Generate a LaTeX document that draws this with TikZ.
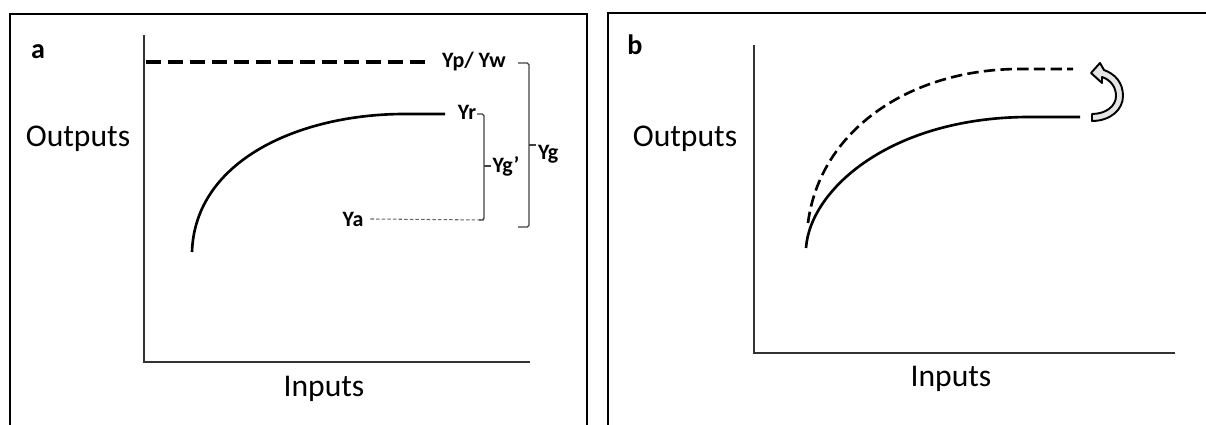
\documentclass[tikz,border=0pt]{standalone}
\usepackage{fontspec}
\setmainfont{Carlito}
\usetikzlibrary{calc}

\begin{document}
\begin{tikzpicture}[x=1cm, y=1cm,
    frame/.style={line width=1.1pt, black},
    axis/.style={line width=0.8pt, black!80},
    yieldcurve/.style={line width=1.5pt, black},
    potential/.style={line width=1.8pt, black, dash pattern=on 8.5pt off 4pt},
    shifted/.style={line width=1.5pt, black, dash pattern=on 6.5pt off 3pt},
    actual/.style={line width=0.6pt, black!60, dash pattern=on 2pt off 1.2pt},
    brace/.style={line width=0.7pt, black!75, rounded corners=1pt},
    hollowarr/.style={line width=1.1pt, black, fill=black!10, line join=round},
    ylbl/.style={font=\fontsize{12.5}{14}\selectfont\bfseries, inner sep=1pt},
    axlbl/.style={font=\fontsize{18}{21}\selectfont},
    panel/.style={font=\fontsize{16}{19}\selectfont\bfseries}]
  \useasboundingbox (0,0) rectangle (24.12,8.5);
  % ---------------- panel a: yield levels and gaps ----------------
  \draw[frame] (0.2,-0.3) rectangle (11.74,8.22);
  \node[panel] (pa) at (0.76,7.46) {a};
  \coordinate (atop) at (2.88,7.8); \coordinate (aorig) at (2.88,1.26); \coordinate (aend) at (10.6,1.26);
  \draw[axis] (atop) -- (aorig) -- (aend);
  \node[axlbl] (outa) at (1.56,5.72) {Outputs};
  \node[axlbl] (ina) at (6.48,0.72) {Inputs};
  % levels
  \node[ylbl] (yp) at (9.48,7.26) {Yp/ Yw};
  \node[ylbl] (yr) at (9.34,6.26) {Yr};
  \node[ylbl] (ya) at (7.06,4.12) {Ya};
  \coordinate (pstart) at (2.92,7.26);
  \draw[potential] (pstart) -- ([xshift=-0.25cm]yp.west);
  \coordinate (rstart) at (3.84,3.46); \coordinate (rend) at (8.9,6.22);
  \draw[yieldcurve] (rstart) .. controls (3.9,5.3) and (6.0,6.22) .. (8.1,6.22) -- (rend);
  % gap brackets
  \coordinate (gi-t) at (9.68,6.22); \coordinate (gi-b) at (9.68,4.1);
  \coordinate (gi-m) at (9.68,5.18);
  \draw[actual] ([xshift=0.1cm]ya.east) -- (gi-b);
  \draw[brace] (9.54,6.22) -- (gi-t) -- (gi-b) -- ++(-0.1,0);
  \node[ylbl, anchor=west] (ygi) at ($(gi-m)+(0.13,0)$) {Yg’};
  \draw[brace] (gi-m) -- (ygi.west);
  \coordinate (go-t) at (10.58,7.24); \coordinate (go-b) at (10.58,3.96);
  \coordinate (go-m) at (10.58,5.6);
  \draw[brace] (10.36,7.24) -- (go-t) -- (go-b) -- (10.36,3.96);
  \draw[brace] (go-m) -- ++(0.14,0);
  \node[ylbl, anchor=north west] (yg) at (10.72,5.64) {Yg};
  % ---------------- panel b: shift of the response curve ----------------
  \draw[frame] (12.16,-0.3) rectangle (24.5,8.24);
  \node[panel] (pb) at (12.7,7.6) {b};
  \coordinate (btop) at (15.08,7.6); \coordinate (borig) at (15.08,1.44); \coordinate (bend) at (23.5,1.44);
  \draw[axis] (btop) -- (borig) -- (bend);
  \node[axlbl] (outb) at (13.7,5.72) {Outputs};
  \node[axlbl] (inb) at (19.02,0.92) {Inputs};
  \coordinate (cstart) at (16.12,3.54); \coordinate (cend) at (21.6,6.16);
  \draw[yieldcurve] (cstart) .. controls (16.2,4.7) and (17.8,6.16) .. (20.6,6.16) -- (cend);
  \coordinate (dstart) at (16.16,4.04); \coordinate (dend) at (21.46,7.12);
  \draw[shifted] (dstart) .. controls (16.4,5.9) and (18.2,7.12) .. (20.4,7.12) -- (dend);
  % hollow curved arrow
  \draw[hollowarr] (21.84,6.08) .. controls (22.2,6.08) and (22.46,6.3) .. (22.46,6.58)
    .. controls (22.46,6.85) and (22.3,7.02) .. (22.08,7.1) -- (22.0,7.24) -- (21.82,7.04)
    -- (22.04,6.84) -- (22.04,6.96) .. controls (22.22,6.9) and (22.32,6.75) .. (22.32,6.58)
    .. controls (22.32,6.38) and (22.12,6.22) .. (21.84,6.22) -- cycle;
\end{tikzpicture}
\end{document}
